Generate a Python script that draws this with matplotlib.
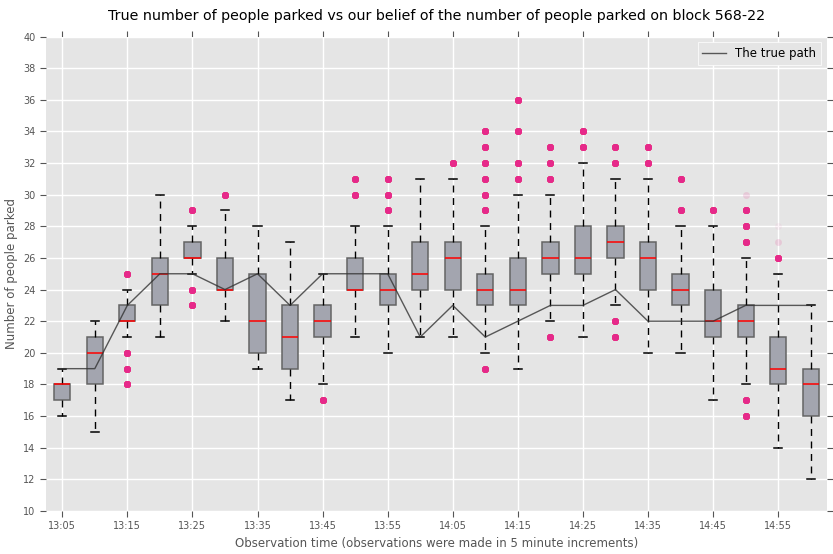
import matplotlib
matplotlib.use("Agg")
import matplotlib.pyplot as plt

plt.style.use("ggplot")

# observation times (5 minute steps)
times = ["13:05", "13:10", "13:15", "13:20", "13:25", "13:30", "13:35", "13:40",
         "13:45", "13:50", "13:55", "14:00", "14:05", "14:10", "14:15", "14:20",
         "14:25", "14:30", "14:35", "14:40", "14:45", "14:50", "14:55", "15:00"]

# box stats
whislo = [16, 15, 21, 21, 25, 22, 19, 17, 18, 21, 20, 21, 21, 20, 19, 22, 21, 23, 20, 20, 17, 18, 14, 12]
q1 = [17, 18, 22, 23, 26, 24, 20, 19, 21, 24, 23, 24, 24, 23, 23, 25, 25, 26, 24, 23, 21, 21, 18, 16]
med = [18, 20, 22, 25, 26, 24, 22, 21, 22, 24, 24, 25, 26, 24, 24, 26, 26, 27, 26, 24, 22, 22, 19, 18]
q3 = [18, 21, 23, 26, 27, 26, 25, 23, 23, 26, 25, 27, 27, 25, 26, 27, 28, 28, 27, 25, 24, 23, 21, 19]
whishi = [19, 22, 24, 30, 28, 29, 28, 27, 25, 28, 28, 31, 31, 28, 30, 30, 32, 31, 31, 28, 28, 26, 25, 23]

# outliers: (value, how many samples) - low counts show up faded
fliers = [
    [],
    [],
    [(18, 80), (19, 80), (20, 80), (25, 80)],
    [],
    [(23, 80), (24, 80), (29, 80)],
    [(30, 80)],
    [],
    [],
    [(17, 80)],
    [(30, 80), (31, 80)],
    [(29, 80), (30, 80), (31, 80)],
    [],
    [(32, 80)],
    [(19, 80), (29, 80), (30, 80), (31, 80), (32, 80), (33, 80), (34, 80)],
    [(31, 80), (32, 80), (34, 80), (36, 80)],
    [(21, 80), (31, 80), (32, 80), (33, 80)],
    [(33, 80), (34, 80)],
    [(21, 80), (22, 80), (32, 80), (33, 80)],
    [(32, 80), (33, 80)],
    [(29, 80), (31, 80)],
    [(29, 80)],
    [(16, 80), (17, 80), (27, 80), (28, 80), (29, 80), (30, 3)],
    [(26, 80), (27, 3), (28, 1)],
    [],
]

true_path = [19, 19, 23, 25, 25, 24, 25, 23, 25, 25, 25, 21, 23, 21, 22, 23, 23, 24, 22, 22, 22, 23, 23, 23]


def main():
    stats = []
    for i in range(len(times)):
        fl = []
        for v, n in fliers[i]:
            fl += [v] * n
        stats.append({"med": med[i], "q1": q1[i], "q3": q3[i],
                      "whislo": whislo[i], "whishi": whishi[i], "fliers": fl})

    fig = plt.figure(figsize=(8.33, 5.54), dpi=100)
    ax = fig.add_axes([0.0552, 0.0776, 0.9376, 0.8565])

    pos = list(range(1, len(times) + 1))
    ax.bxp(stats, positions=pos, widths=0.5, patch_artist=True,
           boxprops=dict(facecolor="#a3a5af", edgecolor="#646464", linewidth=1.1),
           medianprops=dict(color="red", linewidth=1.1),
           whiskerprops=dict(color="black", linestyle="--", linewidth=1, dashes=(5, 4)),
           capprops=dict(color="black", linewidth=1.1),
           flierprops=dict(marker="o", markerfacecolor="#e7298a", markeredgecolor="none",
                           markersize=5, alpha=0.05))

    ax.plot(pos, true_path, color="#333333", alpha=0.8, linewidth=1, label="The true path", zorder=5)

    ax.set_xlim(0.5, len(times) + 0.5)
    ax.set_ylim(10, 40)
    ax.set_yticks(range(10, 41, 2))
    ax.set_xticks(pos[::2])
    ax.set_xticklabels(times[::2])
    ax.tick_params(axis="both", labelsize=7, colors="#555555", top=True, right=True,
                   direction="out", length=4)
    ax.tick_params(labeltop=False, labelright=False)
    for s in ax.spines.values():
        s.set_visible(False)
    ax.grid(True, color="white", linewidth=1)
    ax.set_axisbelow(True)

    ax.set_xlabel("Observation time (observations were made in 5 minute increments)",
                  fontsize=8.5, color="#555555", labelpad=4)
    ax.set_ylabel("Number of people parked", fontsize=8.5, color="#555555", labelpad=4)
    ax.set_title("True number of people parked vs our belief of the number of people parked on block 568-22",
                 fontsize=10.3, color="black", pad=12)

    leg = ax.legend(loc="upper right", fontsize=8.5, facecolor="#e5e5e5", edgecolor="white",
                    framealpha=1, fancybox=False)
    for t in leg.get_texts():
        t.set_color("black")

    plt.savefig("out.png", dpi=100)


if __name__ == "__main__":
    main()
